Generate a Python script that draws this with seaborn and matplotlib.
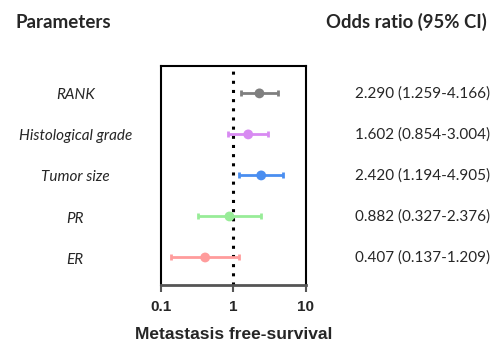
import numpy as np
import pandas as pd
import matplotlib
matplotlib.use('Agg')
import matplotlib.pyplot as plt
import seaborn as sns

# data
params = ['RANK', 'Histological grade', 'Tumor size', 'PR', 'ER']
odds = [2.290, 1.602, 2.420, 0.882, 0.407]
ci_low = [1.259, 0.854, 1.194, 0.327, 0.137]
ci_high = [4.166, 3.004, 4.905, 2.376, 1.209]
colors = ['#7f7f7f', '#d88af2', '#4a8ef0', '#98ec98', '#ff9c9c']
xticks = [0.1, 1, 10]

df = pd.DataFrame({'param': params, 'odds': odds, 'lo': ci_low, 'hi': ci_high})
df['y'] = np.arange(len(df))

sns.set_style('white')
body_font = ['Lato', 'DejaVu Sans']
tick_font = ['Liberation Sans', 'DejaVu Sans']

fig = plt.figure(figsize=(4.94, 3.45), dpi=100)
ax = fig.add_axes([0.326, 0.174, 0.293, 0.635])

# reference line at OR = 1
ax.axvline(1, color='black', linestyle=(0, (1, 2.0)), linewidth=2.2, zorder=1)

for i, row in df.iterrows():
    ax.errorbar(row['odds'], row['y'],
                xerr=[[row['odds'] - row['lo']], [row['hi'] - row['odds']]],
                fmt='none', ecolor=colors[i], elinewidth=2, capsize=2.5, capthick=2, zorder=2)

sns.scatterplot(data=df, x='odds', y='y', hue='param', palette=colors,
                s=50, edgecolor='none', legend=False, ax=ax, zorder=3)

ax.set_xscale('log')
ax.set_xlim(0.1, 10)
ax.set_ylim(len(df) - 0.33, -0.67)
ax.set_yticks([])
ax.set_ylabel('')
ax.set_xticks(xticks)
ax.set_xticklabels(['0.1', '1', '10'], fontfamily=tick_font, fontweight='bold', fontsize=11)
ax.minorticks_off()
ax.tick_params(axis='x', bottom=True, direction='out', length=5, width=1.5,
               color='#555555', pad=6)
ax.set_xlabel('Metastasis free-survival', fontfamily=tick_font, fontweight='bold',
              fontsize=12.5, labelpad=9)

for side in ['top', 'left', 'right']:
    ax.spines[side].set_color('black')
    ax.spines[side].set_linewidth(1.5)
ax.spines['bottom'].set_color('#555555')
ax.spines['bottom'].set_linewidth(2)

# left and right text columns
for i, row in df.iterrows():
    ax.text(-0.593, row['y'] + 0.05, row['param'], transform=ax.get_yaxis_transform(),
            ha='center', va='center', fontsize=11, fontstyle='italic', fontfamily=body_font)
    ax.text(1.338, row['y'], f"{row['odds']:.3f} ({row['lo']:.3f}-{row['hi']:.3f})",
            transform=ax.get_yaxis_transform(), ha='left', va='center',
            fontsize=11, fontfamily=body_font)

fig.text(0.032, 0.935, 'Parameters', ha='left', va='center', fontsize=13.5,
         fontweight='bold', fontfamily=body_font)
fig.text(0.986, 0.935, 'Odds ratio (95% CI)', ha='right', va='center', fontsize=13.3,
         fontweight='bold', fontfamily=body_font)

fig.savefig('out.png', dpi=100)
